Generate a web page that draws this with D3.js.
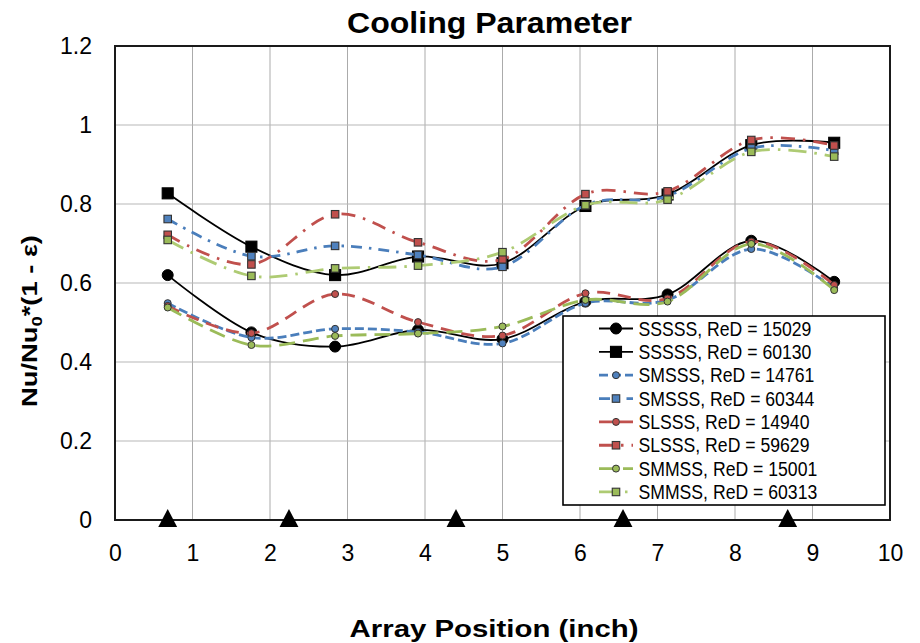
<!DOCTYPE html>
<html>
<head>
<meta charset="utf-8">
<script src="https://cdn.jsdelivr.net/npm/d3@7/dist/d3.min.js"></script>
<style>
  html, body { margin: 0; padding: 0; background: #fff; }
  svg { display: block; font-family: "Liberation Sans", Arial, sans-serif; }
</style>
</head>
<body>
<svg id="chart" width="920" height="643"></svg>
<script>
// Measurement positions along the array (inch)
const arrayPositions = [0.68, 1.76, 2.84, 3.91, 5.0, 6.07, 7.13, 8.21, 9.28];
// Marker positions drawn on the x axis
const markerPositions = [0.68, 2.245, 4.40, 6.555, 8.68];

// Cooling parameter Nu/Nu0*(1 - eps) for each configuration
const sssss15029 = [0.620, 0.475, 0.439, 0.481, 0.458, 0.553, 0.571, 0.707, 0.603];
const sssss60130 = [0.827, 0.692, 0.620, 0.667, 0.650, 0.795, 0.824, 0.949, 0.955];
const smsss14761 = [0.549, 0.462, 0.484, 0.476, 0.447, 0.549, 0.557, 0.686, 0.587];
const smsss60344 = [0.762, 0.668, 0.694, 0.671, 0.641, 0.797, 0.820, 0.941, 0.935];
const slsss14940 = [0.542, 0.473, 0.572, 0.501, 0.467, 0.574, 0.561, 0.705, 0.595];
const slsss59629 = [0.722, 0.647, 0.774, 0.703, 0.660, 0.825, 0.832, 0.962, 0.948];
const smmss15001 = [0.538, 0.443, 0.466, 0.472, 0.490, 0.557, 0.553, 0.699, 0.582];
const smmss60313 = [0.709, 0.618, 0.637, 0.644, 0.678, 0.797, 0.811, 0.932, 0.920];

const seriesLabels = [
  "SSSSS, ReD = 15029", "SSSSS, ReD = 60130",
  "SMSSS, ReD = 14761", "SMSSS, ReD = 60344",
  "SLSSS, ReD = 14940", "SLSSS, ReD = 59629",
  "SMMSS, ReD = 15001", "SMMSS, ReD = 60313"
];
const xTicks = [0, 1, 2, 3, 4, 5, 6, 7, 8, 9, 10];
const yTicks = [0, 0.2, 0.4, 0.6, 0.8, 1.0, 1.2];

const seriesValues = [sssss15029, sssss60130, smsss14761, smsss60344,
                      slsss14940, slsss59629, smmss15001, smmss60313];

// Visual style per series
const styles = [
  { line: "#000", width: 1.8, dash: null,          shape: "circle", fill: "#000",    ms: 11,  mstroke: "#000" },
  { line: "#000", width: 1.8, dash: null,          shape: "square", fill: "#000",    ms: 11,  mstroke: "#000" },
  { line: "#4a7ebb", width: 2.8, dash: "9,4",      shape: "circle", fill: "#4f81bd", ms: 7,   mstroke: "#333" },
  { line: "#4a7ebb", width: 2.8, dash: "11,7,2.5,7", shape: "square", fill: "#4f81bd", ms: 7.5, mstroke: "#333" },
  { line: "#c0504d", width: 2.8, dash: "13,8",     shape: "circle", fill: "#c0504d", ms: 7,   mstroke: "#333" },
  { line: "#c0504d", width: 2.8, dash: "14,8,2.5,8", shape: "square", fill: "#c0504d", ms: 7.5, mstroke: "#333" },
  { line: "#9bbb59", width: 2.8, dash: "16,8",     shape: "circle", fill: "#9bbb59", ms: 7,   mstroke: "#333" },
  { line: "#aecb73", width: 2.8, dash: "18,8,2.5,8", shape: "square", fill: "#9bbb59", ms: 7.5, mstroke: "#333" }
];

const svg = d3.select("#chart");
const plot = { left: 115, right: 890, top: 46, bottom: 520 };

const x = d3.scaleLinear().domain([0, 10]).range([plot.left, plot.right]);
const y = d3.scaleLinear().domain([0, 1.2]).range([plot.bottom, plot.top]);

// Gridlines
const grid = svg.append("g");
grid.selectAll("line.vx").data(xTicks.slice(1, -1)).join("line")
  .attr("x1", d => x(d)).attr("x2", d => x(d))
  .attr("y1", plot.top).attr("y2", plot.bottom)
  .attr("stroke", "#ababab").attr("stroke-width", 1);
grid.selectAll("line.hy").data(yTicks.slice(1, -1)).join("line")
  .attr("x1", plot.left).attr("x2", plot.right)
  .attr("y1", d => y(d)).attr("y2", d => y(d))
  .attr("stroke", "#b8b8b8").attr("stroke-width", 1.2);

// Plot frame
svg.append("rect")
  .attr("x", plot.left).attr("y", plot.top)
  .attr("width", plot.right - plot.left).attr("height", plot.bottom - plot.top)
  .attr("fill", "none").attr("stroke", "#1a1a1a").attr("stroke-width", 2);

// Axes (labels only, frame drawn above)
const xAxis = svg.append("g").attr("transform", `translate(0,${plot.bottom})`)
  .call(d3.axisBottom(x).tickValues(xTicks).tickSize(0).tickPadding(25).tickFormat(d3.format("d")));
xAxis.select(".domain").remove();
xAxis.selectAll("text").attr("font-size", 23).attr("fill", "#000")
  .attr("font-family", "Liberation Sans, Arial, sans-serif");

const yAxis = svg.append("g").attr("transform", `translate(${plot.left},0)`)
  .call(d3.axisLeft(y).tickValues(yTicks).tickSize(0).tickPadding(23)
    .tickFormat(d => d === 0 ? "0" : d3.format("~g")(d)));
yAxis.select(".domain").remove();
yAxis.selectAll("text").attr("font-size", 23).attr("fill", "#000")
  .attr("font-family", "Liberation Sans, Arial, sans-serif");

// Series lines and markers
const lineGen = d3.line()
  .x(d => x(d[0])).y(d => y(d[1]))
  .curve(d3.curveCatmullRom.alpha(0));

function drawMarker(g, shape, cx, cy, st) {
  if (shape === "circle") {
    g.append("circle").attr("cx", cx).attr("cy", cy).attr("r", st.ms / 2)
      .attr("fill", st.fill).attr("stroke", st.mstroke).attr("stroke-width", 1);
  } else {
    g.append("rect").attr("x", cx - st.ms / 2).attr("y", cy - st.ms / 2)
      .attr("width", st.ms).attr("height", st.ms)
      .attr("fill", st.fill).attr("stroke", st.mstroke).attr("stroke-width", 1.1);
  }
}

seriesValues.forEach((vals, i) => {
  const st = styles[i];
  const pts = arrayPositions.map((p, k) => [p, vals[k]]);
  const g = svg.append("g");
  g.append("path").datum(pts).attr("d", lineGen)
    .attr("fill", "none").attr("stroke", st.line).attr("stroke-width", st.width)
    .attr("stroke-dasharray", st.dash);
  pts.forEach(p => drawMarker(g, st.shape, x(p[0]), y(p[1]), st));
});

// Triangle markers on the x axis
const tri = d3.symbol().type(d3.symbolTriangle).size(140);
svg.append("g").selectAll("path").data(markerPositions).join("path")
  .attr("d", tri)
  .attr("transform", d => `translate(${x(d)},${y(0) + 1}) scale(1.05,1.15)`)
  .attr("fill", "#000");

// Legend
const lg = svg.append("g");
lg.append("rect").attr("x", 563).attr("y", 316).attr("width", 322).attr("height", 189)
  .attr("fill", "#fff").attr("stroke", "#000").attr("stroke-width", 1.6);
seriesLabels.forEach((lab, i) => {
  const st = styles[i];
  const cy = 328.5 + i * 23.35;
  lg.append("line").attr("x1", 599).attr("x2", 633).attr("y1", cy).attr("y2", cy)
    .attr("stroke", st.line).attr("stroke-width", st.width)
    .attr("stroke-dasharray", st.dash);
  drawMarker(lg, st.shape, 616, cy, st);
  lg.append("text")
    .attr("transform", `translate(638.5,${cy + 7.2}) scale(0.86,1)`)
    .attr("font-size", 20.5).attr("fill", "#000")
    .text(lab);
});

// Titles
function fitText(sel, target) {
  const w = sel.node().getComputedTextLength();
  return target / w;
}

const title = svg.append("text")
  .attr("font-size", 29).attr("font-weight", "bold").attr("text-anchor", "middle")
  .text("Cooling Parameter");
const ts = fitText(title, 285);
title.attr("transform", `translate(489.5,33) scale(${ts},1)`);

const xLabel = svg.append("text")
  .attr("font-size", 23).attr("font-weight", "bold").attr("text-anchor", "middle")
  .text("Array Position (inch)");
const xs = fitText(xLabel, 289);
xLabel.attr("transform", `translate(494,637) scale(${xs},1)`);

const yLabel = svg.append("text")
  .attr("font-size", 22).attr("font-weight", "bold").attr("text-anchor", "middle");
yLabel.append("tspan").text("Nu/Nu");
yLabel.append("tspan").attr("font-size", 15).attr("dy", 5).text("0");
yLabel.append("tspan").attr("dy", -5).text("*(1 - ε)");
const ys = fitText(yLabel, 172);
yLabel.attr("transform", `translate(37,321) rotate(-90) scale(${ys},1)`);
</script>
</body>
</html>
